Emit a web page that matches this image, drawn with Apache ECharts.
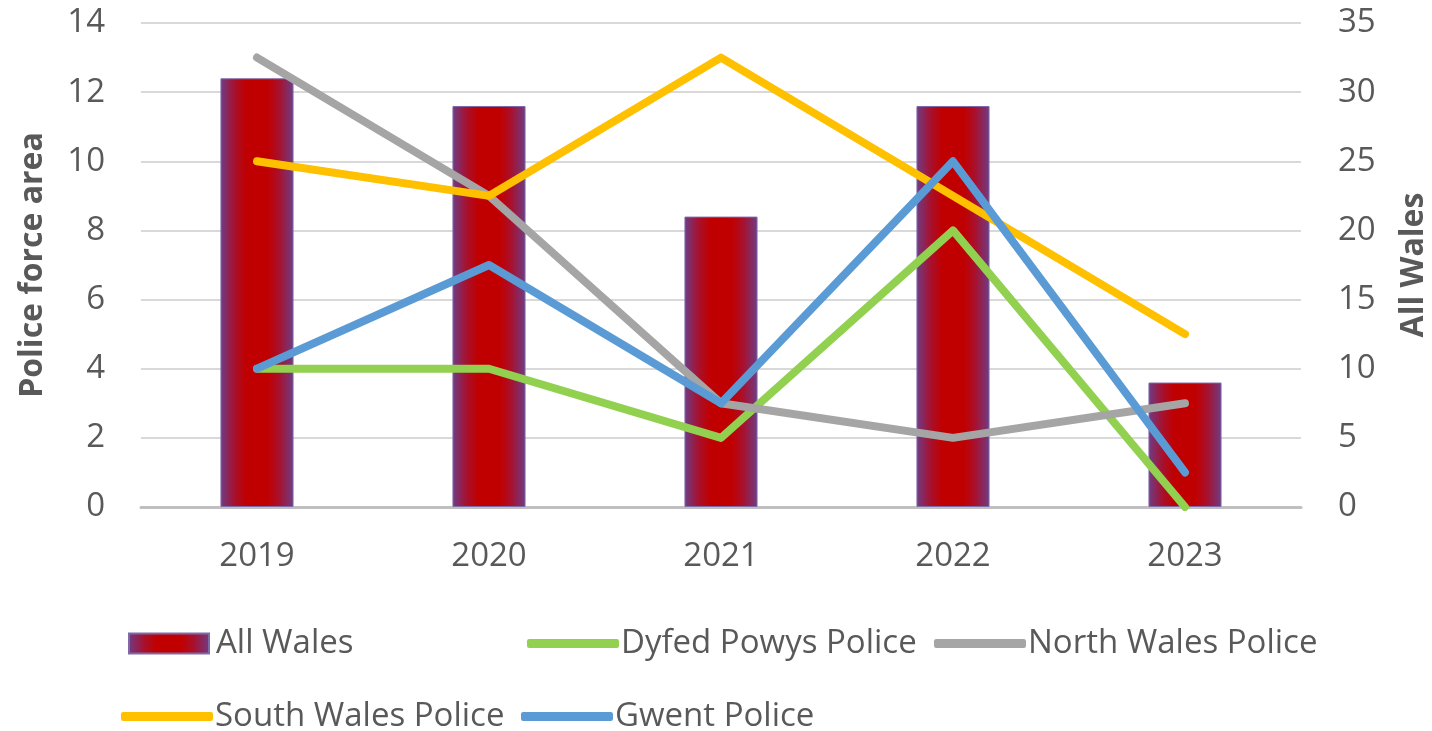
<!DOCTYPE html>
<html><head><meta charset="utf-8">
<script src="https://cdn.jsdelivr.net/npm/echarts@6/dist/echarts.min.js"></script>
<style>html,body{margin:0;padding:0;background:#fff}#c{width:1432px;height:731px}</style>
</head><body><div id="c"></div>
<script>
const years = ['2019','2020','2021','2022','2023'];
const allWales = [31, 29, 21, 29, 9];
const dyfedPowys = [4, 4, 2, 8, 0];
const northWales = [13, 9, 3, 2, 3];
const southWales = [10, 9, 13, 9, 5];
const gwent = [4, 7, 3, 10, 1];
const leftTicks = {min:0, max:14, interval:2};
const rightTicks = {min:0, max:35, interval:5};

const font = '"Open Sans", "Noto Sans", sans-serif';
const txt = '#595959';
const FS = 33;
const barGrad = {type:'linear', x:0, y:0, x2:1, y2:0, colorStops:[
  {offset:0, color:'#6e3c86'},{offset:0.2, color:'#a8102c'},{offset:0.35, color:'#c00000'},
  {offset:0.65, color:'#c00000'},{offset:0.8, color:'#a8102c'},{offset:1, color:'#6e3c86'}]};

function lineSeries(name, data, color){
  return {name, type:'line', data, yAxisIndex:0, symbol:'none', smooth:false,
    lineStyle:{color, width:8, cap:'round', join:'round'}, itemStyle:{color}};
}
function leg(name, left, top){
  return {data:[{name, icon:'roundRect'}], left, top, padding:0, itemWidth:92, itemHeight:9, itemGap:0,
    textStyle:{fontFamily:font, fontSize:FS, color:txt, padding:[0,0,0,-3]}};
}
const chart = echarts.init(document.getElementById('c'), null, {renderer:'canvas'});
chart.setOption({
  animation:false,
  grid:{left:141, right:131, top:23, bottom:224, containLabel:false, outerBoundsMode:'none'},
  legend:[
    {data:[{name:'All Wales', icon:'rect'}], left:128, top:627, padding:0, itemWidth:80, itemHeight:20, itemGap:0,
      textStyle:{fontFamily:font, fontSize:FS, color:txt, padding:[0,0,0,2]}},
    leg('Dyfed Powys Police', 527, 627),
    leg('North Wales Police', 934, 627),
    leg('South Wales Police', 121, 700),
    leg('Gwent Police', 521, 700)
  ],
  xAxis:{type:'category', data:years, boundaryGap:true,
    axisLine:{lineStyle:{color:'#bfbfbf', width:3}}, axisTick:{show:false},
    axisLabel:{fontFamily:font, fontSize:FS, color:txt, margin:33}},
  yAxis:[
    {type:'value', min:leftTicks.min, max:leftTicks.max, interval:leftTicks.interval, position:'left',
      name:'Police force area', nameLocation:'middle', nameGap:92, nameRotate:90,
      nameTextStyle:{fontFamily:font, fontSize:32, fontWeight:'bold', color:txt},
      axisLine:{show:false}, axisTick:{show:false},
      axisLabel:{fontFamily:font, fontSize:FS, color:txt, margin:36},
      splitLine:{lineStyle:{color:'#d9d9d9', width:2}}},
    {type:'value', min:rightTicks.min, max:rightTicks.max, interval:rightTicks.interval, position:'right',
      name:'All Wales', nameLocation:'middle', nameGap:97, nameRotate:90,
      nameTextStyle:{fontFamily:font, fontSize:32, fontWeight:'bold', color:txt},
      axisLine:{show:false}, axisTick:{show:false},
      axisLabel:{fontFamily:font, fontSize:FS, color:txt, margin:37},
      splitLine:{show:false}}
  ],
  series:[
    {name:'All Wales', type:'bar', yAxisIndex:1, data:allWales, barWidth:'31.5%',
      itemStyle:{color:barGrad, borderColor:'#7f6aa8', borderWidth:1}},
    lineSeries('Dyfed Powys Police', dyfedPowys, '#92d050'),
    lineSeries('North Wales Police', northWales, '#a5a5a5'),
    lineSeries('South Wales Police', southWales, '#ffc000'),
    lineSeries('Gwent Police', gwent, '#5b9bd5')
  ]
});
</script></body></html>
